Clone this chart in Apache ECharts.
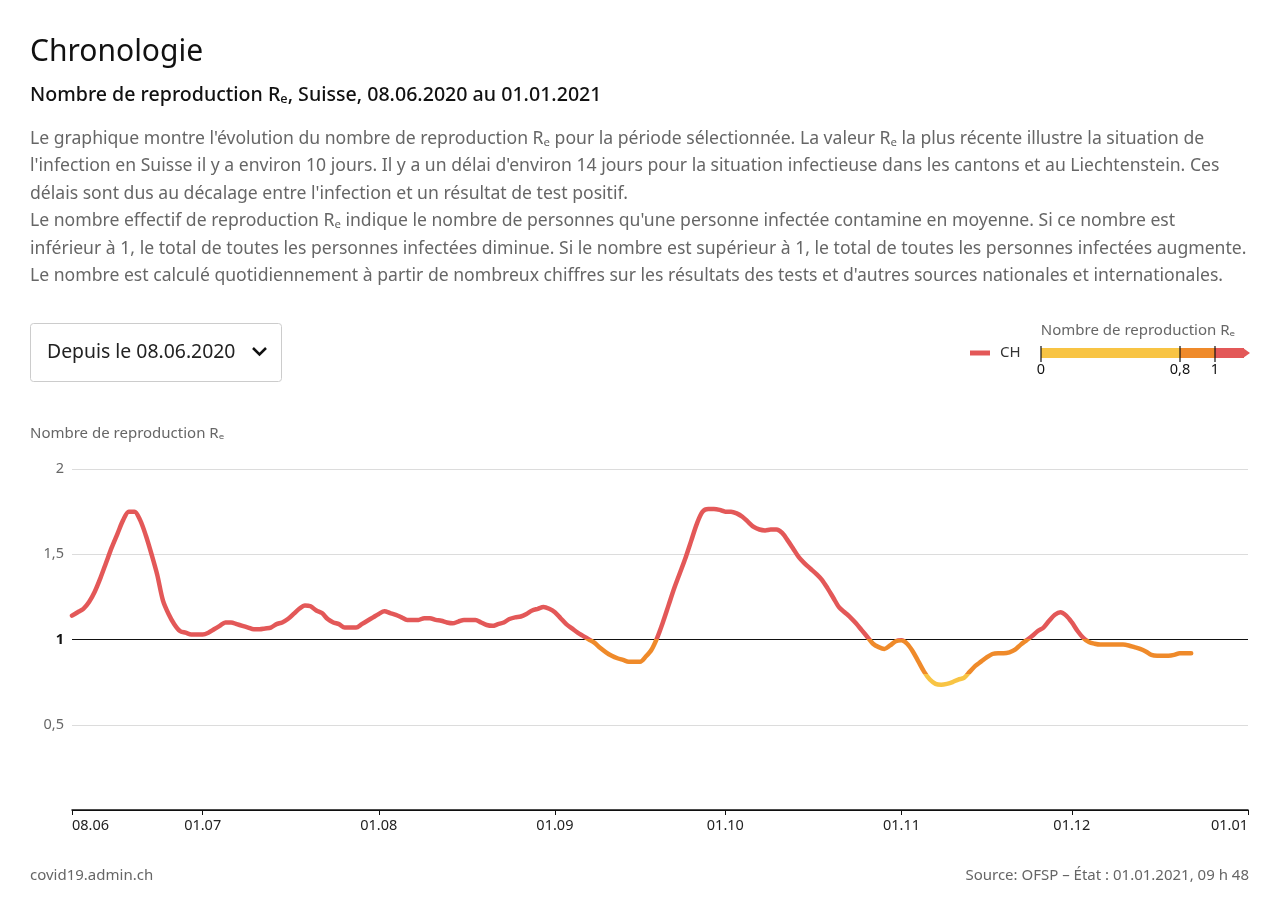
<!DOCTYPE html>
<html><head><meta charset="utf-8">
<script src="https://cdn.jsdelivr.net/npm/echarts@6/dist/echarts.min.js"></script>
<style>html,body{margin:0;padding:0;background:#fff}#c{width:1280px;height:918px}</style>
</head><body><div id="c"></div>
<script>
// ---- data ----
const startDate = [2020, 5, 8];   // 08.06.2020
const endDate = [2021, 0, 1];     // 01.01.2021
const tickLabels = ['08.06','01.07','01.08','01.09','01.10','01.11','01.12','01.01'];
const yTicks = [0.5, 1, 1.5, 2];
const thresholds = [0.8, 1];
const seriesName = 'CH';
const reValues = [
1.14,1.16,1.18,1.22,1.28,1.36,1.45,1.54,1.62,1.70,
1.75,1.75,1.70,1.61,1.50,1.38,1.23,1.15,1.09,1.05,
1.04,1.03,1.03,1.03,1.04,1.06,1.08,1.10,1.10,1.09,
1.08,1.07,1.06,1.06,1.065,1.07,1.09,1.10,1.12,1.15,
1.18,1.20,1.195,1.17,1.155,1.12,1.10,1.09,1.07,1.07,
1.07,1.09,1.11,1.13,1.15,1.165,1.155,1.145,1.13,1.115,
1.115,1.115,1.125,1.125,1.115,1.11,1.10,1.095,1.105,1.115,
1.115,1.115,1.10,1.085,1.08,1.09,1.10,1.12,1.13,1.135,
1.15,1.17,1.18,1.19,1.18,1.16,1.125,1.09,1.065,1.04,
1.02,1.00,0.98,0.95,0.925,0.905,0.89,0.88,0.87,0.87,
0.87,0.90,0.94,1.01,1.10,1.20,1.30,1.39,1.48,1.58,
1.68,1.75,1.765,1.765,1.76,1.75,1.75,1.74,1.72,1.69,
1.66,1.645,1.64,1.645,1.645,1.625,1.58,1.53,1.48,1.445,
1.415,1.385,1.35,1.30,1.245,1.19,1.16,1.13,1.095,1.055,
1.015,0.975,0.955,0.945,0.965,0.99,0.995,0.975,0.93,0.87,
0.81,0.765,0.74,0.735,0.74,0.75,0.765,0.775,0.81,0.845,
0.87,0.895,0.915,0.92,0.92,0.925,0.94,0.97,0.995,1.02,
1.05,1.07,1.11,1.145,1.16,1.14,1.10,1.05,1.01,0.985,
0.975,0.97,0.97,0.97,0.97,0.97,0.965,0.955,0.945,0.93,
0.91,0.905,0.905,0.905,0.91,0.92,0.92,0.92
];

// ---- build categories (one per day) ----
const pad = n => (n < 10 ? '0' : '') + n;
const categories = [];
const firstOfMonth = [];
{
  const d = new Date(Date.UTC(startDate[0], startDate[1], startDate[2]));
  const e = new Date(Date.UTC(endDate[0], endDate[1], endDate[2]));
  while (d <= e) {
    categories.push(pad(d.getUTCDate()) + '.' + pad(d.getUTCMonth() + 1));
    firstOfMonth.push(d.getUTCDate() === 1);
    d.setUTCDate(d.getUTCDate() + 1);
  }
}
const showTick = (i) => i === 0 || (firstOfMonth[i] && tickLabels.indexOf(categories[i]) >= 0);

const YELLOW = '#f8c444', ORANGE = '#ef8a2a', RED = '#e35858';
const FONT = '"Noto Sans", sans-serif';

const paragraph = [
"Le graphique montre l'évolution du nombre de reproduction Rₑ pour la période sélectionnée. La valeur Rₑ la plus récente illustre la situation de",
"l'infection en Suisse il y a environ 10 jours. Il y a un délai d'environ 14 jours pour la situation infectieuse dans les cantons et au Liechtenstein. Ces",
"délais sont dus au décalage entre l'infection et un résultat de test positif.",
"Le nombre effectif de reproduction Rₑ indique le nombre de personnes qu'une personne infectée contamine en moyenne. Si ce nombre est",
"inférieur à 1, le total de toutes les personnes infectées diminue. Si le nombre est supérieur à 1, le total de toutes les personnes infectées augmente.",
"Le nombre est calculé quotidiennement à partir de nombreux chiffres sur les résultats des tests et d'autres sources nationales et internationales."
];

const chart = echarts.init(document.getElementById('c'), null, {renderer: 'canvas'});

const graphics = [
  {type:'text', x:30, y:52, style:{text:'Chronologie', font:'30px ' + FONT, fill:'#111', verticalAlign:'middle'}},
  {type:'text', x:30, y:95, style:{text:'Nombre de reproduction Rₑ, Suisse, 08.06.2020 au 01.01.2021', font:'500 19.6px ' + FONT, fill:'#111', verticalAlign:'middle'}},
];
paragraph.forEach((t, i) => {
  graphics.push({type:'text', x:30, y:139 + i * 27.4, style:{text:t, font:'17.6px ' + FONT, fill:'#666', verticalAlign:'middle'}});
});
graphics.push(
  {type:'rect', shape:{x:30.5, y:323.5, width:251, height:58, r:3}, style:{fill:'#fff', stroke:'#ccc', lineWidth:1}},
  {type:'text', x:47, y:352, style:{text:'Depuis le 08.06.2020', font:'19.4px ' + FONT, fill:'#222', verticalAlign:'middle'}},
  {type:'polyline', shape:{points:[[253,348],[259.5,354.5],[266,348]]}, style:{stroke:'#111', lineWidth:2.5, fill:null}},
  {type:'text', x:30, y:434, style:{text:'Nombre de reproduction Rₑ', font:'15px ' + FONT, fill:'#666', verticalAlign:'middle'}},
  // legend
  {type:'line', shape:{x1:970, y1:353, x2:990, y2:353}, style:{stroke:RED, lineWidth:5}},
  {type:'text', x:1000, y:353, style:{text:seriesName, font:'15px ' + FONT, fill:'#333', verticalAlign:'middle'}},
  {type:'text', x:1235, y:331, style:{text:'Nombre de reproduction Rₑ', font:'15px ' + FONT, fill:'#666', align:'right', verticalAlign:'middle'}},
  {type:'rect', shape:{x:1041, y:348, width:139, height:10}, style:{fill:YELLOW}},
  {type:'rect', shape:{x:1180, y:348, width:35, height:10}, style:{fill:ORANGE}},
  {type:'rect', shape:{x:1215, y:348, width:29, height:10}, style:{fill:RED}},
  {type:'polygon', shape:{points:[[1243,348],[1250,353],[1243,358]]}, style:{fill:RED}},
  {type:'line', shape:{x1:1041, y1:346, x2:1041, y2:362}, style:{stroke:'#111', lineWidth:1.2}},
  {type:'line', shape:{x1:1180, y1:346, x2:1180, y2:362}, style:{stroke:'#111', lineWidth:1.2}},
  {type:'line', shape:{x1:1215, y1:346, x2:1215, y2:362}, style:{stroke:'#111', lineWidth:1.2}},
  {type:'text', x:1041, y:370, style:{text:'0', font:'14.5px ' + FONT, fill:'#111', align:'center', verticalAlign:'middle'}},
  {type:'text', x:1180, y:370, style:{text:'0,8', font:'14.5px ' + FONT, fill:'#111', align:'center', verticalAlign:'middle'}},
  {type:'text', x:1215, y:370, style:{text:'1', font:'14.5px ' + FONT, fill:'#111', align:'center', verticalAlign:'middle'}},
  // footer
  {type:'text', x:30, y:876, style:{text:'covid19.admin.ch', font:'15px ' + FONT, fill:'#666', verticalAlign:'middle'}},
  {type:'text', x:1249, y:876, style:{text:'Source: OFSP – État : 01.01.2021, 09 h 48', font:'15px ' + FONT, fill:'#666', align:'right', verticalAlign:'middle'}}
);

chart.setOption({
  animation: false,
  textStyle: {fontFamily: FONT},
  graphic: graphics,
  grid: {left: 72, right: 32, top: 469, bottom: 108, containLabel: false},
  xAxis: {
    type: 'category',
    data: categories,
    boundaryGap: false,
    axisLine: {lineStyle: {color: '#111', width: 1.5}},
    axisTick: {show: true, interval: (i) => showTick(i), length: 5, lineStyle: {color: '#111', width: 1}},
    axisLabel: {interval: (i) => showTick(i), color: '#222', fontSize: 14.5, margin: 8,
      alignMinLabel: 'left', alignMaxLabel: 'right', showMinLabel: true, showMaxLabel: true},
    splitLine: {show: false}
  },
  yAxis: {
    type: 'value', min: 0, max: 2, interval: 0.5,
    axisLine: {show: false}, axisTick: {show: false},
    axisLabel: {
      margin: 8,
      formatter: (v) => {
        if (v === 0) return '';
        const s = String(v).replace('.', ',');
        return v === 1 ? '{b|' + s + '}' : '{n|' + s + '}';
      },
      rich: {n: {color: '#666', fontSize: 14.5, fontFamily: FONT}, b: {color: '#111', fontSize: 14.5, fontWeight: 'bold', fontFamily: FONT}}
    },
    splitLine: {lineStyle: {color: ['#111', '#dcdcdc', '#111', '#dcdcdc', '#dcdcdc'], width: 1}}
  },
  visualMap: {
    type: 'piecewise', show: false, dimension: 1, seriesIndex: 0,
    pieces: [
      {lt: thresholds[0], color: YELLOW},
      {gte: thresholds[0], lt: thresholds[1], color: ORANGE},
      {gte: thresholds[1], color: RED}
    ]
  },
  series: [{
    name: seriesName, type: 'line', data: reValues, smooth: 0.3,
    showSymbol: false, symbol: 'none',
    lineStyle: {width: 4.5, cap: 'round', join: 'round'}
  }]
});
</script></body></html>
